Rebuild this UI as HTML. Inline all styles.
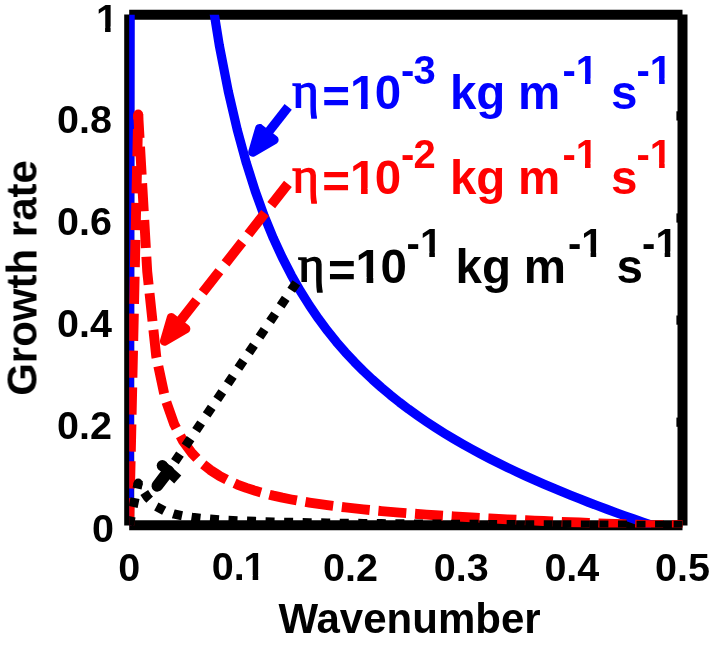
<!DOCTYPE html>
<html><head><meta charset="utf-8"><title>Growth rate vs Wavenumber</title>
<style>html,body{margin:0;padding:0;background:#fff}svg{display:block}
.eta{font-family:"Liberation Serif","DejaVu Serif",serif}</style></head>
<body>
<svg width="711" height="653" viewBox="0 0 711 653">
<defs><clipPath id="ax"><rect x="129.2" y="14.8" width="553.3" height="512.8"/></clipPath><clipPath id="one39_5"><path d="M-3,-39.50 H39.50 V-4.93 H-3 Z M9.17,-5.53 H14.69 V3 H9.17 Z"/></clipPath><clipPath id="one40"><path d="M-3,-40.00 H40.00 V-4.98 H-3 Z M9.29,-5.58 H14.87 V3 H9.29 Z"/></clipPath><clipPath id="one47_5"><path d="M-3,-47.50 H47.50 V-5.75 H-3 Z M11.04,-6.34 H17.65 V3 H11.04 Z"/></clipPath></defs>
<rect width="711" height="653" fill="#fff"/>
<g stroke="#000" stroke-width="10" fill="none">
<line x1="129.2" y1="14.8" x2="682.5" y2="14.8"/>
<line x1="129.2" y1="525.3" x2="682.5" y2="525.3"/>
<line x1="129.2" y1="14.6" x2="129.2" y2="525.5"/>
<line x1="682.5" y1="14.6" x2="682.5" y2="525.5"/>
<line x1="676.4" y1="422.20" x2="682.5" y2="422.20" stroke-width="9.2"/>
<line x1="676.4" y1="320.10" x2="682.5" y2="320.10" stroke-width="9.2"/>
<line x1="676.4" y1="218.00" x2="682.5" y2="218.00" stroke-width="9.2"/>
<line x1="676.4" y1="115.90" x2="682.5" y2="115.90" stroke-width="9.2"/>
</g>
<g clip-path="url(#ax)" fill="none" stroke-linejoin="round">
<path d="M129.20,525.30 L138.21,-4396.85 L147.22,-1934.18 L156.22,-1112.48 L165.23,-701.01 L174.24,-453.61 L183.25,-288.23 L192.25,-169.72 L201.26,-80.50 L210.27,-10.80 L219.28,45.25 L228.28,91.36 L237.29,130.02 L246.30,162.96 L255.31,191.40 L264.32,216.24 L273.32,238.17 L282.33,257.68 L291.34,275.20 L300.35,291.03 L309.35,305.42 L318.36,318.59 L327.37,330.71 L336.38,341.90 L345.39,352.29 L354.39,361.97 L363.40,371.02 L372.41,379.52 L381.42,387.53 L390.42,395.09 L399.43,402.25 L408.44,409.05 L417.45,415.52 L426.45,421.70 L435.46,427.61 L444.47,433.28 L453.48,438.72 L462.49,443.95 L471.49,448.99 L480.50,453.85 L489.51,458.56 L498.52,463.11 L507.52,467.52 L516.53,471.81 L525.54,475.97 L534.55,480.02 L543.56,483.97 L552.56,487.82 L561.57,491.58 L570.58,495.25 L579.59,498.84 L588.59,502.36 L597.60,505.80 L606.61,509.18 L615.62,512.50 L624.62,515.75 L633.63,518.95 L642.64,522.10 L651.65,525.19 L651.96,525.30" stroke="#00f" stroke-width="9.2"/>
<path d="M129.20,525.30 L138.21,114.42" stroke="#f00" stroke-width="9.9" stroke-dasharray="27.2 9.7"/>
<circle cx="138.21" cy="114.42" r="4.95" fill="#f00"/>
<path d="M138.21,114.42 L147.22,271.52 L156.22,356.31 L165.23,398.76 L174.24,424.29 L183.25,441.36 L192.25,453.58 L201.26,462.79 L210.27,469.98 L219.28,475.77 L228.28,480.52 L237.29,484.51 L246.30,487.91 L255.31,490.85 L264.32,493.41 L273.32,495.67 L282.33,497.69 L291.34,499.49 L300.35,501.13 L309.35,502.61 L318.36,503.97 L327.37,505.22 L336.38,506.38 L345.39,507.45 L354.39,508.45 L363.40,509.38 L372.41,510.26 L381.42,511.08 L390.42,511.86 L399.43,512.60 L408.44,513.30 L417.45,513.97 L426.45,514.61 L435.46,515.22 L444.47,515.80 L453.48,516.37 L462.49,516.91 L471.49,517.43 L480.50,517.93 L489.51,518.41 L498.52,518.88 L507.52,519.34 L516.53,519.78 L525.54,520.21 L534.55,520.63 L543.56,521.04 L552.56,521.43 L561.57,521.82 L570.58,522.20 L579.59,522.57 L588.59,522.93 L597.60,523.29 L606.61,523.64 L615.62,523.98 L624.62,524.31 L633.63,524.65 L642.64,524.97 L651.65,525.29 L660.66,525.30 L669.66,525.30 L678.67,525.30 L687.68,525.30" stroke="#f00" stroke-width="9.9" stroke-dasharray="28 8.74" stroke-dashoffset="4.4"/>
<path d="M129.20,525.30 L138.21,483.15" stroke="#000" stroke-width="9.2" stroke-dasharray="9 9.8"/>
<circle cx="138.21" cy="483.15" r="4.6" fill="#000"/>
<path d="M138.21,483.15 L147.22,497.10 L156.22,506.52 L165.23,511.24 L174.24,514.08 L183.25,515.97 L192.25,517.33 L201.26,518.35 L210.27,519.15 L219.28,519.80 L228.28,520.32 L237.29,520.77 L246.30,521.15 L255.31,521.47 L264.32,521.76 L273.32,522.01 L282.33,522.23 L291.34,522.43 L300.35,522.61 L309.35,522.78 L318.36,522.93 L327.37,523.07 L336.38,523.20 L345.39,523.32 L354.39,523.43 L363.40,523.53 L372.41,523.63 L381.42,523.72 L390.42,523.81 L399.43,523.89 L408.44,523.97 L417.45,524.04 L426.45,524.11 L435.46,524.18 L444.47,524.24 L453.48,524.31 L462.49,524.37 L471.49,524.43 L480.50,524.48 L489.51,524.53 L498.52,524.59 L507.52,524.64 L516.53,524.69 L525.54,524.73 L534.55,524.78 L543.56,524.83 L552.56,524.87 L561.57,524.91 L570.58,524.96 L579.59,525.00 L588.59,525.04 L597.60,525.08 L606.61,525.12 L615.62,525.15 L624.62,525.19 L633.63,525.23 L642.64,525.26 L651.65,525.30 L660.66,525.30 L669.66,525.30 L678.67,525.30 L687.68,525.30" stroke="#000" stroke-width="9.2" stroke-dasharray="9 9.55" stroke-dashoffset="7.4"/>
</g>
<line x1="288.20" y1="106.80" x2="266.84" y2="134.13" stroke="#00f" stroke-width="9.2" />
<polygon points="259.55,128.44 274.12,139.83 252.67,152.25" fill="#00f" stroke="#00f" stroke-width="9" stroke-linejoin="round"/>
<line x1="287.90" y1="183.90" x2="178.58" y2="323.17" stroke="#f00" stroke-width="9.9" stroke-dasharray="27 10"/>
<polygon points="171.30,317.46 185.86,328.88 164.38,341.26" fill="#f00" stroke="#f00" stroke-width="9" stroke-linejoin="round"/>
<line x1="296.30" y1="282.80" x2="168.45" y2="471.15" stroke="#000" stroke-width="9.2" stroke-dasharray="9 9.83"/>
<g stroke="#000" fill="none">
<line x1="162.30" y1="465.60" x2="177.72" y2="479.51" stroke-width="10.5"/>
<line x1="168.45" y1="471.15" x2="157.30" y2="485.80" stroke-width="11.7" stroke-linecap="round"/>
</g>
<circle cx="162.30" cy="465.60" r="5.6" fill="#000"/>
<g font-family="'Liberation Sans', Arial, Helvetica, sans-serif" font-weight="bold" opacity="0.999">
<text x="113.90" y="542.20" font-size="39.5" text-anchor="end">0</text>
<text x="112.00" y="439.40" font-size="39.5" text-anchor="end">0.2</text>
<text x="112.00" y="337.30" font-size="39.5" text-anchor="end">0.4</text>
<text x="112.00" y="235.20" font-size="39.5" text-anchor="end">0.6</text>
<text x="112.00" y="133.10" font-size="39.5" text-anchor="end">0.8</text>
<g transform="translate(95.90,31.50)" clip-path="url(#one39_5)"><text font-size="39.5">1</text></g>
<text x="129.20" y="580.50" font-size="39.5" text-anchor="middle">0</text>
<text x="211.80" y="580.30" font-size="39.5">0.</text>
<g transform="translate(243.50,580.30)" clip-path="url(#one39_5)"><text font-size="39.5">1</text></g>
<text x="350.52" y="580.50" font-size="39.5" text-anchor="middle">0.2</text>
<text x="461.18" y="580.50" font-size="39.5" text-anchor="middle">0.3</text>
<text x="571.84" y="580.50" font-size="39.5" text-anchor="middle">0.4</text>
<text x="682.50" y="580.50" font-size="39.5" text-anchor="middle">0.5</text>
<text x="409.50" y="632.50" font-size="42" text-anchor="middle">Wavenumber</text>
<text transform="translate(36.5,278) rotate(-90)" font-size="42" text-anchor="middle">Growth rate</text>
<text x="292.30" y="106.60" fill="#00f" stroke="#00f" stroke-width="1.4" font-size="51" font-weight="normal" class="eta">η</text>
<text x="322.30" y="113.40" font-size="47.5" fill="#00f">=</text>
<g transform="translate(350.00,109.10)" clip-path="url(#one47_5)"><text font-size="47.5" fill="#00f">1</text></g>
<text x="374.80" y="109.10" font-size="47.5" fill="#00f">0</text>
<text x="401.00" y="83.60" font-size="40" fill="#00f">-</text>
<text x="413.40" y="83.60" font-size="40" fill="#00f">3</text>
<text x="449.90" y="109.10" font-size="47.5" fill="#00f">kg</text>
<text x="518.10" y="109.10" font-size="47.5" fill="#00f">m</text>
<text x="562.50" y="83.60" font-size="40" fill="#00f">-</text>
<g transform="translate(575.70,83.60)" clip-path="url(#one40)"><text font-size="40" fill="#00f">1</text></g>
<text x="610.90" y="109.10" font-size="47.5" fill="#00f">s</text>
<text x="636.50" y="83.60" font-size="40" fill="#00f">-</text>
<g transform="translate(649.80,83.60)" clip-path="url(#one40)"><text font-size="40" fill="#00f">1</text></g>
<text x="292.30" y="191.60" fill="#f00" stroke="#f00" stroke-width="1.4" font-size="51" font-weight="normal" class="eta">η</text>
<text x="322.30" y="198.40" font-size="47.5" fill="#f00">=</text>
<g transform="translate(350.00,194.10)" clip-path="url(#one47_5)"><text font-size="47.5" fill="#f00">1</text></g>
<text x="374.80" y="194.10" font-size="47.5" fill="#f00">0</text>
<text x="401.00" y="167.60" font-size="40" fill="#f00">-</text>
<text x="413.40" y="167.60" font-size="40" fill="#f00">2</text>
<text x="449.90" y="194.10" font-size="47.5" fill="#f00">kg</text>
<text x="518.10" y="194.10" font-size="47.5" fill="#f00">m</text>
<text x="562.50" y="167.60" font-size="40" fill="#f00">-</text>
<g transform="translate(575.70,167.60)" clip-path="url(#one40)"><text font-size="40" fill="#f00">1</text></g>
<text x="610.90" y="194.10" font-size="47.5" fill="#f00">s</text>
<text x="636.50" y="167.60" font-size="40" fill="#f00">-</text>
<g transform="translate(649.80,167.60)" clip-path="url(#one40)"><text font-size="40" fill="#f00">1</text></g>
<text x="297.90" y="280.50" fill="#000" stroke="#000" stroke-width="1.4" font-size="51" font-weight="normal" class="eta">η</text>
<text x="327.90" y="287.30" font-size="47.5">=</text>
<g transform="translate(355.60,283.00)" clip-path="url(#one47_5)"><text font-size="47.5">1</text></g>
<text x="380.40" y="283.00" font-size="47.5">0</text>
<text x="406.60" y="256.50" font-size="40">-</text>
<g transform="translate(420.00,256.50)" clip-path="url(#one40)"><text font-size="40">1</text></g>
<text x="455.50" y="283.00" font-size="47.5">kg</text>
<text x="523.70" y="283.00" font-size="47.5">m</text>
<text x="568.10" y="256.50" font-size="40">-</text>
<g transform="translate(581.30,256.50)" clip-path="url(#one40)"><text font-size="40">1</text></g>
<text x="616.50" y="283.00" font-size="47.5">s</text>
<text x="642.10" y="256.50" font-size="40">-</text>
<g transform="translate(655.40,256.50)" clip-path="url(#one40)"><text font-size="40">1</text></g>
</g>
</svg>
</body></html>
